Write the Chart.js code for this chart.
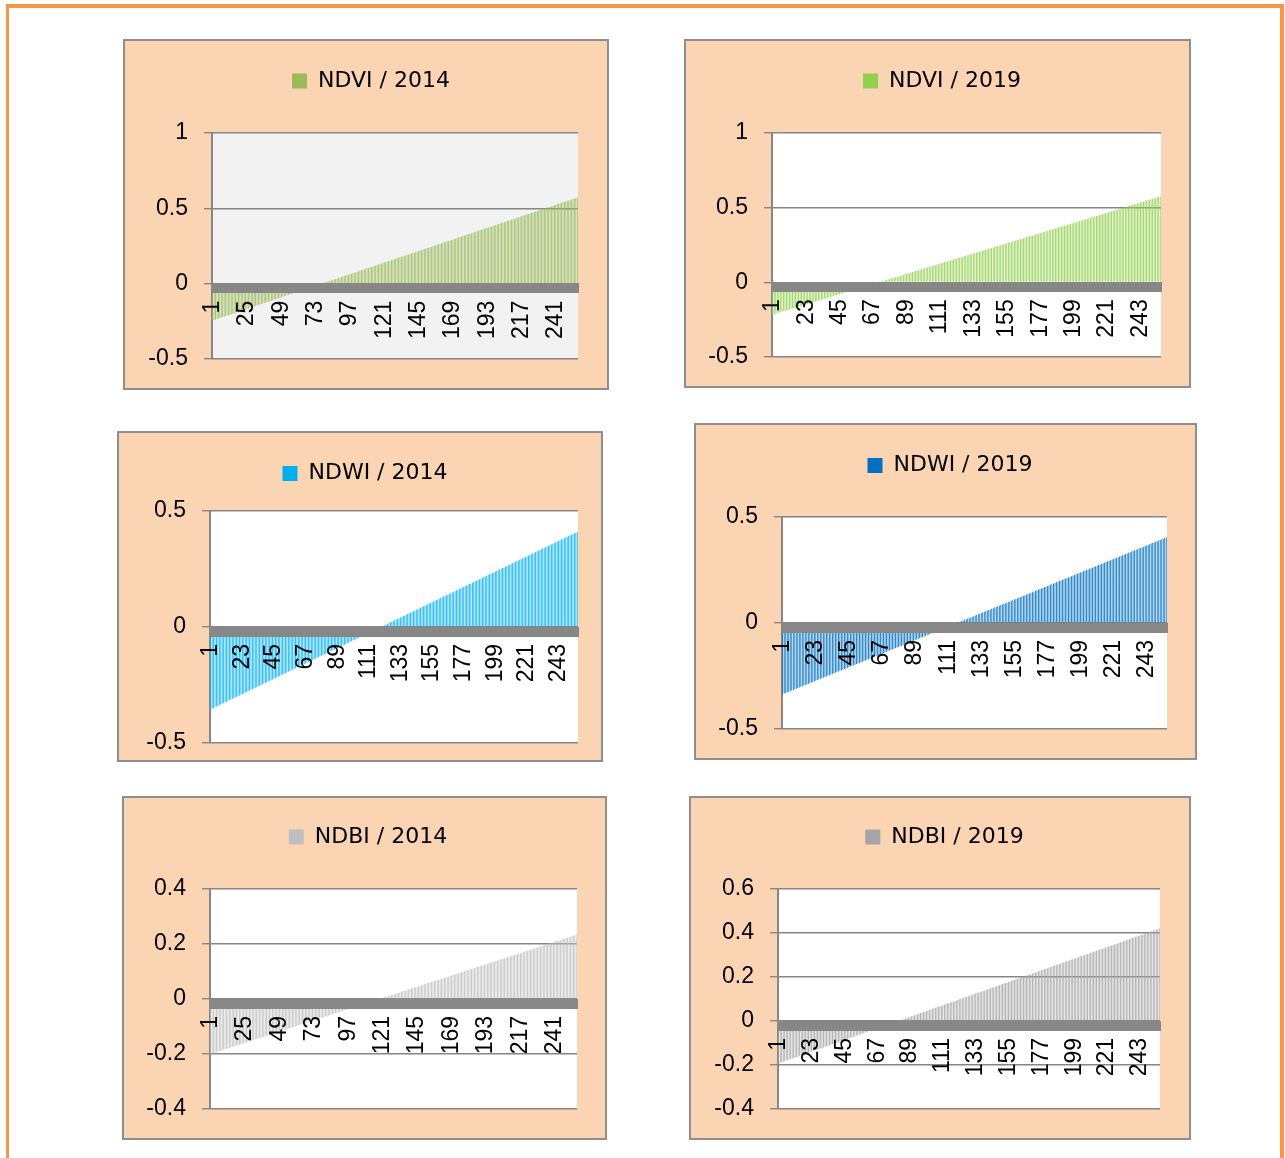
<!DOCTYPE html>
<html>
<head>
<meta charset="utf-8">
<title>NDVI / NDWI / NDBI 2014 - 2019</title>
<script src="https://cdn.jsdelivr.net/npm/chart.js@4.4.1/dist/chart.umd.min.js"></script>
<style>
	html, body { margin: 0; overflow: hidden; background: #ffffff; }
	#frame { position: absolute; left: 6px; top: 4px; width: 1271px; height: 1160px; border: solid #F79646; border-width: 4px 4px 0 3px; }
	.panel { position: absolute; box-sizing: border-box; background: #FBD4B4; border: 2px solid #8E8E8E; }
	.panel canvas { display: block; }
</style>
</head>
<body>
<div id="frame"></div>
<div class="panel" id="p1"><canvas id="myChart1"></canvas></div>
<div class="panel" id="p2"><canvas id="myChart2"></canvas></div>
<div class="panel" id="p3"><canvas id="myChart3"></canvas></div>
<div class="panel" id="p4"><canvas id="myChart4"></canvas></div>
<div class="panel" id="p5"><canvas id="myChart5"></canvas></div>
<div class="panel" id="p6"><canvas id="myChart6"></canvas></div>
<script>
"use strict";

// sorted index values, one bar per class (256 per series)
const ndvi2014 = [
	-0.2440, -0.2408, -0.2376, -0.2344, -0.2312, -0.2280, -0.2248, -0.2216, -0.2184, -0.2152,
	-0.2120, -0.2088, -0.2056, -0.2024, -0.1992, -0.1960, -0.1928, -0.1896, -0.1864, -0.1832,
	-0.1800, -0.1768, -0.1736, -0.1704, -0.1672, -0.1640, -0.1608, -0.1576, -0.1544, -0.1512,
	-0.1480, -0.1448, -0.1416, -0.1384, -0.1352, -0.1320, -0.1288, -0.1256, -0.1224, -0.1192,
	-0.1160, -0.1128, -0.1096, -0.1064, -0.1032, -0.1000, -0.0968, -0.0936, -0.0904, -0.0872,
	-0.0840, -0.0808, -0.0776, -0.0744, -0.0712, -0.0680, -0.0648, -0.0616, -0.0584, -0.0552,
	-0.0520, -0.0488, -0.0456, -0.0424, -0.0392, -0.0360, -0.0328, -0.0296, -0.0264, -0.0232,
	-0.0200, -0.0168, -0.0136, -0.0104, -0.0072, -0.0040, -0.0008, 0.0024, 0.0056, 0.0088,
	0.0120, 0.0152, 0.0184, 0.0216, 0.0248, 0.0280, 0.0312, 0.0344, 0.0376, 0.0408,
	0.0440, 0.0472, 0.0504, 0.0536, 0.0568, 0.0600, 0.0632, 0.0664, 0.0696, 0.0728,
	0.0760, 0.0792, 0.0824, 0.0856, 0.0888, 0.0920, 0.0952, 0.0984, 0.1016, 0.1048,
	0.1080, 0.1112, 0.1144, 0.1176, 0.1208, 0.1240, 0.1272, 0.1304, 0.1336, 0.1368,
	0.1400, 0.1432, 0.1464, 0.1496, 0.1528, 0.1560, 0.1592, 0.1624, 0.1656, 0.1688,
	0.1720, 0.1752, 0.1784, 0.1816, 0.1848, 0.1880, 0.1912, 0.1944, 0.1976, 0.2008,
	0.2040, 0.2072, 0.2104, 0.2136, 0.2168, 0.2200, 0.2232, 0.2264, 0.2296, 0.2328,
	0.2360, 0.2392, 0.2424, 0.2456, 0.2488, 0.2520, 0.2552, 0.2584, 0.2616, 0.2648,
	0.2680, 0.2712, 0.2744, 0.2776, 0.2808, 0.2840, 0.2872, 0.2904, 0.2936, 0.2968,
	0.3000, 0.3032, 0.3064, 0.3096, 0.3128, 0.3160, 0.3192, 0.3224, 0.3256, 0.3288,
	0.3320, 0.3352, 0.3384, 0.3416, 0.3448, 0.3480, 0.3512, 0.3544, 0.3576, 0.3608,
	0.3640, 0.3672, 0.3704, 0.3736, 0.3768, 0.3800, 0.3832, 0.3864, 0.3896, 0.3928,
	0.3960, 0.3992, 0.4024, 0.4056, 0.4088, 0.4120, 0.4152, 0.4184, 0.4216, 0.4248,
	0.4280, 0.4312, 0.4344, 0.4376, 0.4408, 0.4440, 0.4472, 0.4504, 0.4536, 0.4568,
	0.4600, 0.4632, 0.4664, 0.4696, 0.4728, 0.4760, 0.4792, 0.4824, 0.4856, 0.4888,
	0.4920, 0.4952, 0.4984, 0.5016, 0.5048, 0.5080, 0.5112, 0.5144, 0.5176, 0.5208,
	0.5240, 0.5272, 0.5304, 0.5336, 0.5368, 0.5400, 0.5432, 0.5464, 0.5496, 0.5528,
	0.5560, 0.5592, 0.5624, 0.5656, 0.5688, 0.5720
];
const ndvi2019 = [
	-0.2160, -0.2129, -0.2098, -0.2067, -0.2036, -0.2005, -0.1974, -0.1943, -0.1912, -0.1881,
	-0.1850, -0.1819, -0.1788, -0.1757, -0.1726, -0.1695, -0.1664, -0.1633, -0.1602, -0.1571,
	-0.1540, -0.1509, -0.1478, -0.1447, -0.1416, -0.1385, -0.1354, -0.1323, -0.1292, -0.1261,
	-0.1230, -0.1199, -0.1168, -0.1137, -0.1106, -0.1075, -0.1044, -0.1013, -0.0982, -0.0951,
	-0.0920, -0.0889, -0.0858, -0.0827, -0.0796, -0.0765, -0.0734, -0.0703, -0.0672, -0.0641,
	-0.0610, -0.0579, -0.0548, -0.0517, -0.0486, -0.0455, -0.0424, -0.0393, -0.0362, -0.0331,
	-0.0300, -0.0269, -0.0238, -0.0207, -0.0176, -0.0145, -0.0114, -0.0083, -0.0052, -0.0021,
	0.0010, 0.0041, 0.0072, 0.0103, 0.0134, 0.0165, 0.0196, 0.0227, 0.0258, 0.0289,
	0.0320, 0.0351, 0.0382, 0.0413, 0.0444, 0.0475, 0.0506, 0.0537, 0.0568, 0.0599,
	0.0630, 0.0661, 0.0692, 0.0723, 0.0754, 0.0785, 0.0816, 0.0847, 0.0878, 0.0909,
	0.0940, 0.0971, 0.1002, 0.1033, 0.1064, 0.1095, 0.1126, 0.1157, 0.1188, 0.1219,
	0.1250, 0.1281, 0.1312, 0.1343, 0.1374, 0.1405, 0.1436, 0.1467, 0.1498, 0.1529,
	0.1560, 0.1591, 0.1622, 0.1653, 0.1684, 0.1715, 0.1746, 0.1777, 0.1808, 0.1839,
	0.1870, 0.1901, 0.1932, 0.1963, 0.1994, 0.2025, 0.2056, 0.2087, 0.2118, 0.2149,
	0.2180, 0.2211, 0.2242, 0.2273, 0.2304, 0.2335, 0.2366, 0.2397, 0.2428, 0.2459,
	0.2490, 0.2521, 0.2552, 0.2583, 0.2614, 0.2645, 0.2676, 0.2707, 0.2738, 0.2769,
	0.2800, 0.2831, 0.2862, 0.2893, 0.2924, 0.2955, 0.2986, 0.3017, 0.3048, 0.3079,
	0.3110, 0.3141, 0.3172, 0.3203, 0.3234, 0.3265, 0.3296, 0.3327, 0.3358, 0.3389,
	0.3420, 0.3451, 0.3482, 0.3513, 0.3544, 0.3575, 0.3606, 0.3637, 0.3668, 0.3699,
	0.3730, 0.3761, 0.3792, 0.3823, 0.3854, 0.3885, 0.3916, 0.3947, 0.3978, 0.4009,
	0.4040, 0.4071, 0.4102, 0.4133, 0.4164, 0.4195, 0.4226, 0.4257, 0.4288, 0.4319,
	0.4350, 0.4381, 0.4412, 0.4443, 0.4474, 0.4505, 0.4536, 0.4567, 0.4598, 0.4629,
	0.4660, 0.4691, 0.4722, 0.4753, 0.4784, 0.4815, 0.4846, 0.4877, 0.4908, 0.4939,
	0.4970, 0.5001, 0.5032, 0.5063, 0.5094, 0.5125, 0.5156, 0.5187, 0.5218, 0.5249,
	0.5280, 0.5311, 0.5342, 0.5373, 0.5404, 0.5435, 0.5466, 0.5497, 0.5528, 0.5559,
	0.5590, 0.5621, 0.5652, 0.5683, 0.5714, 0.5745
];
const ndwi2014 = [
	-0.355, -0.352, -0.349, -0.346, -0.343, -0.340, -0.337, -0.334, -0.331, -0.328,
	-0.325, -0.322, -0.319, -0.316, -0.313, -0.310, -0.307, -0.304, -0.301, -0.298,
	-0.295, -0.292, -0.289, -0.286, -0.283, -0.280, -0.277, -0.274, -0.271, -0.268,
	-0.265, -0.262, -0.259, -0.256, -0.253, -0.250, -0.247, -0.244, -0.241, -0.238,
	-0.235, -0.232, -0.229, -0.226, -0.223, -0.220, -0.217, -0.214, -0.211, -0.208,
	-0.205, -0.202, -0.199, -0.196, -0.193, -0.190, -0.187, -0.184, -0.181, -0.178,
	-0.175, -0.172, -0.169, -0.166, -0.163, -0.160, -0.157, -0.154, -0.151, -0.148,
	-0.145, -0.142, -0.139, -0.136, -0.133, -0.130, -0.127, -0.124, -0.121, -0.118,
	-0.115, -0.112, -0.109, -0.106, -0.103, -0.100, -0.097, -0.094, -0.091, -0.088,
	-0.085, -0.082, -0.079, -0.076, -0.073, -0.070, -0.067, -0.064, -0.061, -0.058,
	-0.055, -0.052, -0.049, -0.046, -0.043, -0.040, -0.037, -0.034, -0.031, -0.028,
	-0.025, -0.022, -0.019, -0.016, -0.013, -0.010, -0.007, -0.004, -0.001, 0.002,
	0.005, 0.008, 0.011, 0.014, 0.017, 0.020, 0.023, 0.026, 0.029, 0.032,
	0.035, 0.038, 0.041, 0.044, 0.047, 0.050, 0.053, 0.056, 0.059, 0.062,
	0.065, 0.068, 0.071, 0.074, 0.077, 0.080, 0.083, 0.086, 0.089, 0.092,
	0.095, 0.098, 0.101, 0.104, 0.107, 0.110, 0.113, 0.116, 0.119, 0.122,
	0.125, 0.128, 0.131, 0.134, 0.137, 0.140, 0.143, 0.146, 0.149, 0.152,
	0.155, 0.158, 0.161, 0.164, 0.167, 0.170, 0.173, 0.176, 0.179, 0.182,
	0.185, 0.188, 0.191, 0.194, 0.197, 0.200, 0.203, 0.206, 0.209, 0.212,
	0.215, 0.218, 0.221, 0.224, 0.227, 0.230, 0.233, 0.236, 0.239, 0.242,
	0.245, 0.248, 0.251, 0.254, 0.257, 0.260, 0.263, 0.266, 0.269, 0.272,
	0.275, 0.278, 0.281, 0.284, 0.287, 0.290, 0.293, 0.296, 0.299, 0.302,
	0.305, 0.308, 0.311, 0.314, 0.317, 0.320, 0.323, 0.326, 0.329, 0.332,
	0.335, 0.338, 0.341, 0.344, 0.347, 0.350, 0.353, 0.356, 0.359, 0.362,
	0.365, 0.368, 0.371, 0.374, 0.377, 0.380, 0.383, 0.386, 0.389, 0.392,
	0.395, 0.398, 0.401, 0.404, 0.407, 0.410
];
const ndwi2019 = [
	-0.3360, -0.3331, -0.3302, -0.3273, -0.3244, -0.3215, -0.3186, -0.3157, -0.3128, -0.3099,
	-0.3070, -0.3041, -0.3012, -0.2983, -0.2954, -0.2925, -0.2896, -0.2867, -0.2838, -0.2809,
	-0.2780, -0.2751, -0.2722, -0.2693, -0.2664, -0.2635, -0.2606, -0.2577, -0.2548, -0.2519,
	-0.2490, -0.2461, -0.2432, -0.2403, -0.2374, -0.2345, -0.2316, -0.2287, -0.2258, -0.2229,
	-0.2200, -0.2171, -0.2142, -0.2113, -0.2084, -0.2055, -0.2026, -0.1997, -0.1968, -0.1939,
	-0.1910, -0.1881, -0.1852, -0.1823, -0.1794, -0.1765, -0.1736, -0.1707, -0.1678, -0.1649,
	-0.1620, -0.1591, -0.1562, -0.1533, -0.1504, -0.1475, -0.1446, -0.1417, -0.1388, -0.1359,
	-0.1330, -0.1301, -0.1272, -0.1243, -0.1214, -0.1185, -0.1156, -0.1127, -0.1098, -0.1069,
	-0.1040, -0.1011, -0.0982, -0.0953, -0.0924, -0.0895, -0.0866, -0.0837, -0.0808, -0.0779,
	-0.0750, -0.0721, -0.0692, -0.0663, -0.0634, -0.0605, -0.0576, -0.0547, -0.0518, -0.0489,
	-0.0460, -0.0431, -0.0402, -0.0373, -0.0344, -0.0315, -0.0286, -0.0257, -0.0228, -0.0199,
	-0.0170, -0.0141, -0.0112, -0.0083, -0.0054, -0.0025, 0.0004, 0.0033, 0.0062, 0.0091,
	0.0120, 0.0149, 0.0178, 0.0207, 0.0236, 0.0265, 0.0294, 0.0323, 0.0352, 0.0381,
	0.0410, 0.0439, 0.0468, 0.0497, 0.0526, 0.0555, 0.0584, 0.0613, 0.0642, 0.0671,
	0.0700, 0.0729, 0.0758, 0.0787, 0.0816, 0.0845, 0.0874, 0.0903, 0.0932, 0.0961,
	0.0990, 0.1019, 0.1048, 0.1077, 0.1106, 0.1135, 0.1164, 0.1193, 0.1222, 0.1251,
	0.1280, 0.1309, 0.1338, 0.1367, 0.1396, 0.1425, 0.1454, 0.1483, 0.1512, 0.1541,
	0.1570, 0.1599, 0.1628, 0.1657, 0.1686, 0.1715, 0.1744, 0.1773, 0.1802, 0.1831,
	0.1860, 0.1889, 0.1918, 0.1947, 0.1976, 0.2005, 0.2034, 0.2063, 0.2092, 0.2121,
	0.2150, 0.2179, 0.2208, 0.2237, 0.2266, 0.2295, 0.2324, 0.2353, 0.2382, 0.2411,
	0.2440, 0.2469, 0.2498, 0.2527, 0.2556, 0.2585, 0.2614, 0.2643, 0.2672, 0.2701,
	0.2730, 0.2759, 0.2788, 0.2817, 0.2846, 0.2875, 0.2904, 0.2933, 0.2962, 0.2991,
	0.3020, 0.3049, 0.3078, 0.3107, 0.3136, 0.3165, 0.3194, 0.3223, 0.3252, 0.3281,
	0.3310, 0.3339, 0.3368, 0.3397, 0.3426, 0.3455, 0.3484, 0.3513, 0.3542, 0.3571,
	0.3600, 0.3629, 0.3658, 0.3687, 0.3716, 0.3745, 0.3774, 0.3803, 0.3832, 0.3861,
	0.3890, 0.3919, 0.3948, 0.3977, 0.4006, 0.4035
];
const ndbi2014 = [
	-0.2000, -0.1983, -0.1966, -0.1949, -0.1932, -0.1915, -0.1898, -0.1881, -0.1864, -0.1847,
	-0.1830, -0.1813, -0.1796, -0.1779, -0.1762, -0.1745, -0.1728, -0.1711, -0.1694, -0.1677,
	-0.1660, -0.1643, -0.1626, -0.1609, -0.1592, -0.1575, -0.1558, -0.1541, -0.1524, -0.1507,
	-0.1490, -0.1473, -0.1456, -0.1439, -0.1422, -0.1405, -0.1388, -0.1371, -0.1354, -0.1337,
	-0.1320, -0.1303, -0.1286, -0.1269, -0.1252, -0.1235, -0.1218, -0.1201, -0.1184, -0.1167,
	-0.1150, -0.1133, -0.1116, -0.1099, -0.1082, -0.1065, -0.1048, -0.1031, -0.1014, -0.0997,
	-0.0980, -0.0963, -0.0946, -0.0929, -0.0912, -0.0895, -0.0878, -0.0861, -0.0844, -0.0827,
	-0.0810, -0.0793, -0.0776, -0.0759, -0.0742, -0.0725, -0.0708, -0.0691, -0.0674, -0.0657,
	-0.0640, -0.0623, -0.0606, -0.0589, -0.0572, -0.0555, -0.0538, -0.0521, -0.0504, -0.0487,
	-0.0470, -0.0453, -0.0436, -0.0419, -0.0402, -0.0385, -0.0368, -0.0351, -0.0334, -0.0317,
	-0.0300, -0.0283, -0.0266, -0.0249, -0.0232, -0.0215, -0.0198, -0.0181, -0.0164, -0.0147,
	-0.0130, -0.0113, -0.0096, -0.0079, -0.0062, -0.0045, -0.0028, -0.0011, 0.0006, 0.0023,
	0.0040, 0.0057, 0.0074, 0.0091, 0.0108, 0.0125, 0.0142, 0.0159, 0.0176, 0.0193,
	0.0210, 0.0227, 0.0244, 0.0261, 0.0278, 0.0295, 0.0312, 0.0329, 0.0346, 0.0363,
	0.0380, 0.0397, 0.0414, 0.0431, 0.0448, 0.0465, 0.0482, 0.0499, 0.0516, 0.0533,
	0.0550, 0.0567, 0.0584, 0.0601, 0.0618, 0.0635, 0.0652, 0.0669, 0.0686, 0.0703,
	0.0720, 0.0737, 0.0754, 0.0771, 0.0788, 0.0805, 0.0822, 0.0839, 0.0856, 0.0873,
	0.0890, 0.0907, 0.0924, 0.0941, 0.0958, 0.0975, 0.0992, 0.1009, 0.1026, 0.1043,
	0.1060, 0.1077, 0.1094, 0.1111, 0.1128, 0.1145, 0.1162, 0.1179, 0.1196, 0.1213,
	0.1230, 0.1247, 0.1264, 0.1281, 0.1298, 0.1315, 0.1332, 0.1349, 0.1366, 0.1383,
	0.1400, 0.1417, 0.1434, 0.1451, 0.1468, 0.1485, 0.1502, 0.1519, 0.1536, 0.1553,
	0.1570, 0.1587, 0.1604, 0.1621, 0.1638, 0.1655, 0.1672, 0.1689, 0.1706, 0.1723,
	0.1740, 0.1757, 0.1774, 0.1791, 0.1808, 0.1825, 0.1842, 0.1859, 0.1876, 0.1893,
	0.1910, 0.1927, 0.1944, 0.1961, 0.1978, 0.1995, 0.2012, 0.2029, 0.2046, 0.2063,
	0.2080, 0.2097, 0.2114, 0.2131, 0.2148, 0.2165, 0.2182, 0.2199, 0.2216, 0.2233,
	0.2250, 0.2267, 0.2284, 0.2301, 0.2318, 0.2335
];
const ndbi2019 = [
	-0.1920, -0.1896, -0.1872, -0.1848, -0.1824, -0.1800, -0.1776, -0.1752, -0.1728, -0.1704,
	-0.1680, -0.1656, -0.1632, -0.1608, -0.1584, -0.1560, -0.1536, -0.1512, -0.1488, -0.1464,
	-0.1440, -0.1416, -0.1392, -0.1368, -0.1344, -0.1320, -0.1296, -0.1272, -0.1248, -0.1224,
	-0.1200, -0.1176, -0.1152, -0.1128, -0.1104, -0.1080, -0.1056, -0.1032, -0.1008, -0.0984,
	-0.0960, -0.0936, -0.0912, -0.0888, -0.0864, -0.0840, -0.0816, -0.0792, -0.0768, -0.0744,
	-0.0720, -0.0696, -0.0672, -0.0648, -0.0624, -0.0600, -0.0576, -0.0552, -0.0528, -0.0504,
	-0.0480, -0.0456, -0.0432, -0.0408, -0.0384, -0.0360, -0.0336, -0.0312, -0.0288, -0.0264,
	-0.0240, -0.0216, -0.0192, -0.0168, -0.0144, -0.0120, -0.0096, -0.0072, -0.0048, -0.0024,
	0.0000, 0.0024, 0.0048, 0.0072, 0.0096, 0.0120, 0.0144, 0.0168, 0.0192, 0.0216,
	0.0240, 0.0264, 0.0288, 0.0312, 0.0336, 0.0360, 0.0384, 0.0408, 0.0432, 0.0456,
	0.0480, 0.0504, 0.0528, 0.0552, 0.0576, 0.0600, 0.0624, 0.0648, 0.0672, 0.0696,
	0.0720, 0.0744, 0.0768, 0.0792, 0.0816, 0.0840, 0.0864, 0.0888, 0.0912, 0.0936,
	0.0960, 0.0984, 0.1008, 0.1032, 0.1056, 0.1080, 0.1104, 0.1128, 0.1152, 0.1176,
	0.1200, 0.1224, 0.1248, 0.1272, 0.1296, 0.1320, 0.1344, 0.1368, 0.1392, 0.1416,
	0.1440, 0.1464, 0.1488, 0.1512, 0.1536, 0.1560, 0.1584, 0.1608, 0.1632, 0.1656,
	0.1680, 0.1704, 0.1728, 0.1752, 0.1776, 0.1800, 0.1824, 0.1848, 0.1872, 0.1896,
	0.1920, 0.1944, 0.1968, 0.1992, 0.2016, 0.2040, 0.2064, 0.2088, 0.2112, 0.2136,
	0.2160, 0.2184, 0.2208, 0.2232, 0.2256, 0.2280, 0.2304, 0.2328, 0.2352, 0.2376,
	0.2400, 0.2424, 0.2448, 0.2472, 0.2496, 0.2520, 0.2544, 0.2568, 0.2592, 0.2616,
	0.2640, 0.2664, 0.2688, 0.2712, 0.2736, 0.2760, 0.2784, 0.2808, 0.2832, 0.2856,
	0.2880, 0.2904, 0.2928, 0.2952, 0.2976, 0.3000, 0.3024, 0.3048, 0.3072, 0.3096,
	0.3120, 0.3144, 0.3168, 0.3192, 0.3216, 0.3240, 0.3264, 0.3288, 0.3312, 0.3336,
	0.3360, 0.3384, 0.3408, 0.3432, 0.3456, 0.3480, 0.3504, 0.3528, 0.3552, 0.3576,
	0.3600, 0.3624, 0.3648, 0.3672, 0.3696, 0.3720, 0.3744, 0.3768, 0.3792, 0.3816,
	0.3840, 0.3864, 0.3888, 0.3912, 0.3936, 0.3960, 0.3984, 0.4008, 0.4032, 0.4056,
	0.4080, 0.4104, 0.4128, 0.4152, 0.4176, 0.4200
];

// y-axis tick labels
const ndviTicks = [-0.5, 0, 0.5, 1];
const ndwiTicks = [-0.5, 0, 0.5];
const ndbi2014Ticks = [-0.4, -0.2, 0, 0.2, 0.4];
const ndbi2019Ticks = [-0.4, -0.2, 0, 0.2, 0.4, 0.6];

// class numbers on the category axis
const categories = ndvi2014.map((v, i) => String(i + 1));

// box: left, top, width, height / plot: left, top, right, bottom / legend centre x, y (page px)
const panels = [
	{ id: 'p1', canvas: 'myChart1', box: [123, 39, 486, 351], plot: [212, 133, 578, 359], legend: [371, 79.5],
		name: 'NDVI / 2014', values: ndvi2014, ticks: ndviTicks, color: '#9BBB59', plotBg: '#F2F2F2', labelEvery: 24 },
	{ id: 'p2', canvas: 'myChart2', box: [684, 39, 507, 349], plot: [772, 133, 1161, 357], legend: [942, 79.5],
		name: 'NDVI / 2019', values: ndvi2019, ticks: ndviTicks, color: '#92D050', plotBg: '#FFFFFF', labelEvery: 22 },
	{ id: 'p3', canvas: 'myChart3', box: [117, 431, 486, 331], plot: [210, 511, 578, 743], legend: [365, 472],
		name: 'NDWI / 2014', values: ndwi2014, ticks: ndwiTicks, color: '#00B0F0', plotBg: '#FFFFFF', labelEvery: 22 },
	{ id: 'p4', canvas: 'myChart4', box: [694, 423, 503, 337], plot: [782, 517, 1167, 729], legend: [950, 464],
		name: 'NDWI / 2019', values: ndwi2019, ticks: ndwiTicks, color: '#0070C0', plotBg: '#FFFFFF', labelEvery: 22 },
	{ id: 'p5', canvas: 'myChart5', box: [122, 796, 485, 344], plot: [210, 889, 577, 1109], legend: [368, 835.5],
		name: 'NDBI / 2014', values: ndbi2014, ticks: ndbi2014Ticks, color: '#BFBFBF', plotBg: '#FFFFFF', labelEvery: 24 },
	{ id: 'p6', canvas: 'myChart6', box: [689, 796, 502, 344], plot: [778, 889, 1160, 1109], legend: [944.5, 835.5],
		name: 'NDBI / 2019', values: ndbi2019, ticks: ndbi2019Ticks, color: '#A5A5A5', plotBg: '#FFFFFF', labelEvery: 22 }
];

const AXIS_GREY = '#868686';
const LEGEND_FONT = 22;
const LEGEND_PAD = 10;
const TICK_FONT = 23;

// fills the plot area (Excel plot area fill)
const plotFill = {
	id: 'plotFill',
	beforeDraw(chart, args, opts) {
		const a = chart.chartArea;
		chart.ctx.save();
		chart.ctx.fillStyle = opts.color;
		chart.ctx.fillRect(a.left, a.top, a.right - a.left, a.bottom - a.top);
		chart.ctx.restore();
	}
};

// fixes the legend block height so the plot top lands where it should,
// and centres the legend row on a given x
const legendFit = {
	id: 'legendFit',
	beforeInit(chart, args, opts) {
		const h = opts.height;
		const fit = chart.legend.fit;
		chart.legend.fit = function () {
			fit.call(this);
			this.height = h;
		};
	},
	afterLayout(chart, args, opts) {
		chart.legend.left = opts.centerX - 200;
		chart.legend.right = opts.centerX + 200;
	}
};

var figure = {};

figure.init = () => {
	Chart.defaults.font.family = "'Liberation Sans', Arial, sans-serif";
	Chart.defaults.color = '#000000';
	panels.forEach(p => figure.drawPanel(p));
};

figure.drawPanel = (p) => {
	const el = document.getElementById(p.id);
	el.style.left = p.box[0] + 'px';
	el.style.top = p.box[1] + 'px';
	el.style.width = p.box[2] + 'px';
	el.style.height = p.box[3] + 'px';

	const canvas = document.getElementById(p.canvas);
	const cw = p.box[2] - 4;
	const ch = p.box[3] - 4;
	canvas.width = cw;
	canvas.height = ch;
	const ox = p.box[0] + 2;
	const oy = p.box[1] + 2;

	const padLeft = 6;
	const padRight = ox + cw - p.plot[2];
	const padTop = p.legend[1] + 1.5 - oy - LEGEND_PAD - LEGEND_FONT / 2;
	const padBottom = oy + ch - p.plot[3];
	const yWidth = p.plot[0] - ox - padLeft;
	const legendHeight = p.plot[1] - oy - padTop;

	const data = {
		labels: categories,
		datasets: [
			{
				label: p.name,
				data: p.values,
				backgroundColor: p.color,
				borderWidth: 0,
				barPercentage: 0.9,
				categoryPercentage: 0.6
			}
		]
	};
	const config = {
		type: 'bar',
		data: data,
		plugins: [plotFill, legendFit],
		options: {
			responsive: false,
			animation: false,
			devicePixelRatio: 1,
			events: [],
			layout: {
				padding: { left: padLeft, top: padTop, right: padRight, bottom: padBottom }
			},
			scales: {
				y: {
					min: p.ticks[0],
					max: p.ticks[p.ticks.length - 1],
					afterBuildTicks: s => { s.ticks = p.ticks.map(v => ({ value: v })); },
					afterFit: s => { s.width = yWidth; s.paddingTop = 0; s.paddingBottom = 0; },
					grid: { color: AXIS_GREY, lineWidth: 1.4, tickLength: 8 },
					border: { color: AXIS_GREY, width: 2 },
					ticks: {
						font: { size: TICK_FONT },
						color: '#000000',
						padding: 16,
						callback: v => String(v)
					}
				},
				x: {
					position: { y: 0 },
					offset: true,
					afterFit: s => { s.paddingLeft = 0; s.paddingRight = 0; },
					grid: {
						drawOnChartArea: false,
						drawTicks: true,
						tickLength: 9,
						tickColor: '#878787',
						tickWidth: 2,
						color: '#878787',
						lineWidth: 2,
						z: 1
					},
					border: { display: true, color: '#878787', width: 1, z: 1 },
					ticks: {
						autoSkip: false,
						minRotation: 90,
						maxRotation: 90,
						padding: 8,
						font: { size: TICK_FONT },
						color: '#000000',
						z: 1,
						callback: (v, i) => (i % p.labelEvery === 0 ? categories[i] : '')
					}
				}
			},
			plugins: {
				plotFill: { color: p.plotBg },
				legendFit: { height: legendHeight, centerX: p.legend[0] - ox },
				tooltip: { enabled: false },
				title: { display: false },
				legend: {
					position: 'top',
					align: 'center',
					labels: {
						boxWidth: 15,
						boxHeight: 15,
						padding: LEGEND_PAD,
						color: '#000000',
						font: { family: "'DejaVu Sans', sans-serif", size: LEGEND_FONT }
					}
				}
			}
		}
	};
	const myChart = new Chart(canvas, config);
};

figure.init();
</script>
</body>
</html>
